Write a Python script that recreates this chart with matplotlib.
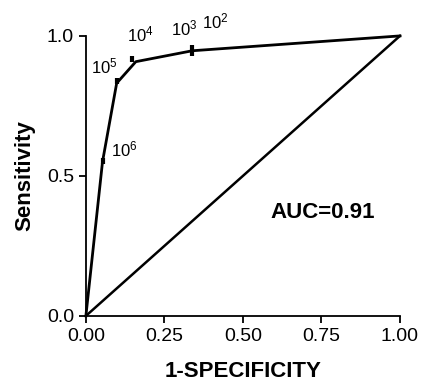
import matplotlib
matplotlib.use("Agg")
import matplotlib.pyplot as plt

plt.rcParams['font.family'] = ['Liberation Sans', 'DejaVu Sans']
plt.rcParams['mathtext.fontset'] = 'custom'
plt.rcParams['mathtext.rm'] = 'Liberation Sans'
plt.rcParams['mathtext.it'] = 'Liberation Sans'

# ROC curve
fpr = [0.0, 0.053, 0.098, 0.159, 0.339, 1.0]
tpr = [0.0, 0.551, 0.831, 0.908, 0.947, 1.0]

# threshold markers and labels
mark_x = [0.053, 0.098, 0.147, 0.339, 0.339]
mark_y = [0.555, 0.839, 0.918, 0.958, 0.940]
labels = ["$10^6$", "$10^5$", "$10^4$", "$10^3$", "$10^2$"]
label_x = [0.121, 0.059, 0.174, 0.314, 0.411]
label_y = [0.596, 0.891, 1.005, 1.027, 1.05]

auc_text = "AUC=0.91"

fig = plt.figure(figsize=(4.21, 3.82), dpi=100)
ax = fig.add_axes([0.204, 0.173, 0.746, 0.733])

ax.plot([0, 1], [0, 1], color='black', lw=1.8, clip_on=False)
ax.plot(fpr, tpr, color='black', lw=2.0, clip_on=False)
ax.plot(mark_x, mark_y, ls='none', marker='|', ms=5, mew=3, color='black', clip_on=False)

for lx, ly, lab in zip(label_x, label_y, labels):
    ax.text(lx, ly, lab, fontsize=12, ha='center', va='center')

ax.text(0.755, 0.368, auc_text, fontsize=16, fontweight='bold', ha='center', va='center')

ax.set_xlim(0, 1)
ax.set_ylim(0, 1)
ax.set_xticks([0, 0.25, 0.5, 0.75, 1.0])
ax.set_xticklabels(["0.00", "0.25", "0.50", "0.75", "1.00"])
ax.set_yticks([0, 0.5, 1.0])
ax.set_yticklabels(["0.0", "0.5", "1.0"])
ax.tick_params(labelsize=14, width=1.3, length=5, direction='out')
for s in ['top', 'right']:
    ax.spines[s].set_visible(False)
for s in ['left', 'bottom']:
    ax.spines[s].set_linewidth(1.3)

ax.set_xlabel("1-SPECIFICITY", fontsize=16, fontweight='bold', labelpad=12)
ax.set_ylabel("Sensitivity", fontsize=16, fontweight='bold', labelpad=8)

fig.savefig("out.png", dpi=100)
